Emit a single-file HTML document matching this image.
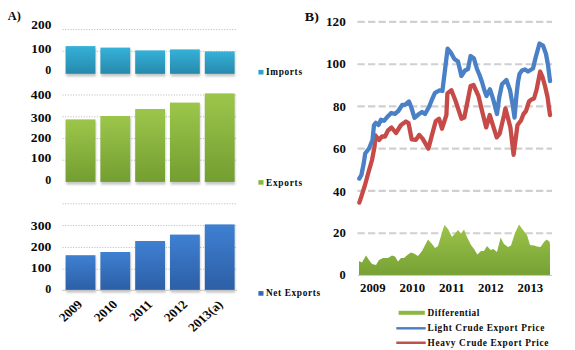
<!DOCTYPE html>
<html><head><meta charset="utf-8"><style>
html,body{margin:0;padding:0;background:#fff;width:575px;height:350px;overflow:hidden}
svg{display:block}
text{font-family:"Liberation Serif", serif;font-weight:bold;fill:#0a0a0a}
</style></head><body>
<svg width="575" height="350" viewBox="0 0 575 350">
<defs>
<linearGradient id="gImp" x1="0" y1="0" x2="0" y2="1"><stop offset="0" stop-color="#35b1d8"/><stop offset="1" stop-color="#2789ad"/></linearGradient>
<linearGradient id="gExp" x1="0" y1="0" x2="0" y2="1"><stop offset="0" stop-color="#9cc64a"/><stop offset="1" stop-color="#739e31"/></linearGradient>
<linearGradient id="gNet" x1="0" y1="0" x2="0" y2="1"><stop offset="0" stop-color="#3f80d2"/><stop offset="1" stop-color="#2c5fa6"/></linearGradient>
<linearGradient id="gArea" gradientUnits="userSpaceOnUse" x1="0" y1="222" x2="0" y2="275"><stop offset="0" stop-color="#9cc64a"/><stop offset="1" stop-color="#77a134"/></linearGradient>
<filter id="blur" x="-20%" y="-20%" width="140%" height="140%"><feGaussianBlur stdDeviation="1"/></filter>
</defs>
<text x="7.8" y="19.9" font-size="13.0" text-anchor="start" textLength="13.0" lengthAdjust="spacingAndGlyphs">A)</text>
<line x1="62.5" y1="29.6" x2="237" y2="29.6" stroke="#bbbbbb" stroke-width="1" stroke-dasharray="1.1 1.55"/>
<line x1="62.5" y1="51.3" x2="237" y2="51.3" stroke="#bbbbbb" stroke-width="1" stroke-dasharray="1.1 1.55"/>
<rect x="66.19999999999999" y="47.6" width="29.8" height="28.899999999999995" fill="#000" opacity="0.22" filter="url(#blur)"/><rect x="65.6" y="46.1" width="29.8" height="27.699999999999996" fill="url(#gImp)"/><rect x="101.0" y="49.1" width="29.8" height="27.399999999999995" fill="#000" opacity="0.22" filter="url(#blur)"/><rect x="100.4" y="47.6" width="29.8" height="26.199999999999996" fill="url(#gImp)"/><rect x="135.79999999999998" y="51.9" width="29.8" height="24.599999999999998" fill="#000" opacity="0.22" filter="url(#blur)"/><rect x="135.2" y="50.4" width="29.8" height="23.4" fill="url(#gImp)"/><rect x="170.6" y="50.9" width="29.8" height="25.599999999999998" fill="#000" opacity="0.22" filter="url(#blur)"/><rect x="170" y="49.4" width="29.8" height="24.4" fill="url(#gImp)"/><rect x="205.4" y="52.9" width="29.8" height="23.599999999999998" fill="#000" opacity="0.22" filter="url(#blur)"/><rect x="204.8" y="51.4" width="29.8" height="22.4" fill="url(#gImp)"/>
<text x="51.3" y="29.4" font-size="12" text-anchor="end" textLength="20" lengthAdjust="spacingAndGlyphs">200</text>
<text x="51.3" y="52.6" font-size="12" text-anchor="end" textLength="20" lengthAdjust="spacingAndGlyphs">100</text>
<text x="51.3" y="74.0" font-size="12" text-anchor="end">0</text>
<line x1="62.5" y1="95.0" x2="237" y2="95.0" stroke="#bbbbbb" stroke-width="1" stroke-dasharray="1.1 1.55"/>
<line x1="62.5" y1="116.8" x2="237" y2="116.8" stroke="#bbbbbb" stroke-width="1" stroke-dasharray="1.1 1.55"/>
<line x1="62.5" y1="138.6" x2="237" y2="138.6" stroke="#bbbbbb" stroke-width="1" stroke-dasharray="1.1 1.55"/>
<line x1="62.5" y1="160.2" x2="237" y2="160.2" stroke="#bbbbbb" stroke-width="1" stroke-dasharray="1.1 1.55"/>
<rect x="66.19999999999999" y="120.9" width="29.8" height="63.7" fill="#000" opacity="0.22" filter="url(#blur)"/><rect x="65.6" y="119.4" width="29.8" height="62.5" fill="url(#gExp)"/><rect x="101.0" y="117.5" width="29.8" height="67.10000000000001" fill="#000" opacity="0.22" filter="url(#blur)"/><rect x="100.4" y="116" width="29.8" height="65.9" fill="url(#gExp)"/><rect x="135.79999999999998" y="110.5" width="29.8" height="74.10000000000001" fill="#000" opacity="0.22" filter="url(#blur)"/><rect x="135.2" y="109" width="29.8" height="72.9" fill="url(#gExp)"/><rect x="170.6" y="104.1" width="29.8" height="80.50000000000001" fill="#000" opacity="0.22" filter="url(#blur)"/><rect x="170" y="102.6" width="29.8" height="79.30000000000001" fill="url(#gExp)"/><rect x="205.4" y="94.9" width="29.8" height="89.7" fill="#000" opacity="0.22" filter="url(#blur)"/><rect x="204.8" y="93.4" width="29.8" height="88.5" fill="url(#gExp)"/>
<text x="51.3" y="98.7" font-size="12" text-anchor="end" textLength="20.5" lengthAdjust="spacingAndGlyphs">400</text>
<text x="51.3" y="121.7" font-size="12" text-anchor="end" textLength="20.5" lengthAdjust="spacingAndGlyphs">300</text>
<text x="51.3" y="141.5" font-size="12" text-anchor="end" textLength="20.5" lengthAdjust="spacingAndGlyphs">200</text>
<text x="51.3" y="162.0" font-size="12" text-anchor="end" textLength="20.5" lengthAdjust="spacingAndGlyphs">100</text>
<text x="51.3" y="184.0" font-size="12" text-anchor="end">0</text>
<line x1="62.5" y1="203.8" x2="237" y2="203.8" stroke="#bbbbbb" stroke-width="1" stroke-dasharray="1.1 1.55"/>
<line x1="62.5" y1="225.6" x2="237" y2="225.6" stroke="#bbbbbb" stroke-width="1" stroke-dasharray="1.1 1.55"/>
<line x1="62.5" y1="247.4" x2="237" y2="247.4" stroke="#bbbbbb" stroke-width="1" stroke-dasharray="1.1 1.55"/>
<line x1="62.5" y1="269.2" x2="237" y2="269.2" stroke="#bbbbbb" stroke-width="1" stroke-dasharray="1.1 1.55"/>
<rect x="66.19999999999999" y="256.7" width="29.8" height="36.000000000000014" fill="#000" opacity="0.22" filter="url(#blur)"/><rect x="65.6" y="255.2" width="29.8" height="34.80000000000001" fill="url(#gNet)"/><rect x="101.0" y="253.5" width="29.8" height="39.2" fill="#000" opacity="0.22" filter="url(#blur)"/><rect x="100.4" y="252" width="29.8" height="38" fill="url(#gNet)"/><rect x="135.79999999999998" y="242.5" width="29.8" height="50.2" fill="#000" opacity="0.22" filter="url(#blur)"/><rect x="135.2" y="241" width="29.8" height="49" fill="url(#gNet)"/><rect x="170.6" y="236.1" width="29.8" height="56.60000000000001" fill="#000" opacity="0.22" filter="url(#blur)"/><rect x="170" y="234.6" width="29.8" height="55.400000000000006" fill="url(#gNet)"/><rect x="205.4" y="225.9" width="29.8" height="66.8" fill="#000" opacity="0.22" filter="url(#blur)"/><rect x="204.8" y="224.4" width="29.8" height="65.6" fill="url(#gNet)"/>
<line x1="62" y1="290.3" x2="237" y2="290.3" stroke="#bfbfbf" stroke-width="0.9"/>
<text x="51.3" y="229.8" font-size="12" text-anchor="end" textLength="20.5" lengthAdjust="spacingAndGlyphs">300</text>
<text x="51.3" y="250.6" font-size="12" text-anchor="end" textLength="20.5" lengthAdjust="spacingAndGlyphs">200</text>
<text x="51.3" y="271.8" font-size="12" text-anchor="end" textLength="20.5" lengthAdjust="spacingAndGlyphs">100</text>
<text x="51.3" y="292.6" font-size="12" text-anchor="end">0</text>
<text x="0" y="0" font-size="12" text-anchor="end" transform="translate(83.19999999999999,305.3) scale(1.12,1) rotate(-45)">2009</text>
<text x="0" y="0" font-size="12" text-anchor="end" transform="translate(118.19999999999999,305.3) scale(1.12,1) rotate(-45)">2010</text>
<text x="0" y="0" font-size="12" text-anchor="end" transform="translate(153.2,305.3) scale(1.12,1) rotate(-45)">2011</text>
<text x="0" y="0" font-size="12" text-anchor="end" transform="translate(188.2,305.3) scale(1.12,1) rotate(-45)">2012</text>
<text x="0" y="0" font-size="12" text-anchor="end" transform="translate(223.6,305.3) scale(1.12,1) rotate(-45)">2013(a)</text>
<rect x="258.4" y="69.9" width="5.1" height="4.6" fill="#2ea2cb"/>
<text x="266" y="74.9" font-size="9.3" text-anchor="start" textLength="36" lengthAdjust="spacing">Imports</text>
<rect x="258.4" y="180.1" width="5.1" height="4.6" fill="#8ab83c"/>
<text x="266" y="185.8" font-size="9.3" text-anchor="start" textLength="36" lengthAdjust="spacing">Exports</text>
<rect x="258.4" y="291.1" width="5.1" height="4.6" fill="#3068bd"/>
<text x="266" y="296.0" font-size="9.3" text-anchor="start" textLength="54" lengthAdjust="spacing">Net Exports</text>
<text x="304.8" y="20.8" font-size="13.2" text-anchor="start" textLength="14" lengthAdjust="spacingAndGlyphs">B)</text>
<line x1="357.5" y1="21.9" x2="552" y2="21.9" stroke="#d0d0d0" stroke-width="2.1" stroke-dasharray="7.3 3.2"/>
<line x1="357.5" y1="64.2" x2="552" y2="64.2" stroke="#d0d0d0" stroke-width="2.1" stroke-dasharray="7.3 3.2"/>
<line x1="357.5" y1="106.4" x2="552" y2="106.4" stroke="#d0d0d0" stroke-width="2.1" stroke-dasharray="7.3 3.2"/>
<line x1="357.5" y1="148.6" x2="552" y2="148.6" stroke="#d0d0d0" stroke-width="2.1" stroke-dasharray="7.3 3.2"/>
<line x1="357.5" y1="190.9" x2="552" y2="190.9" stroke="#d0d0d0" stroke-width="2.1" stroke-dasharray="7.3 3.2"/>
<line x1="357.5" y1="233.3" x2="552" y2="233.3" stroke="#d0d0d0" stroke-width="2.1" stroke-dasharray="7.3 3.2"/>
<text x="345.8" y="26.3" font-size="12.4" text-anchor="end" textLength="19.8" lengthAdjust="spacingAndGlyphs">120</text>
<text x="345.8" y="68.4" font-size="12.4" text-anchor="end" textLength="19.8" lengthAdjust="spacingAndGlyphs">100</text>
<text x="345.8" y="110.7" font-size="12.4" text-anchor="end" textLength="12.8" lengthAdjust="spacingAndGlyphs">80</text>
<text x="345.8" y="153.2" font-size="12.4" text-anchor="end" textLength="12.8" lengthAdjust="spacingAndGlyphs">60</text>
<text x="345.8" y="195.5" font-size="12.4" text-anchor="end" textLength="12.8" lengthAdjust="spacingAndGlyphs">40</text>
<text x="345.8" y="237.2" font-size="12.4" text-anchor="end" textLength="12.8" lengthAdjust="spacingAndGlyphs">20</text>
<text x="345.8" y="279.4" font-size="12.4" text-anchor="end">0</text>
<polygon points="359,275 359.0,261.0 362.0,262.4 366.0,255.6 369.0,260.0 372.0,264.0 376.0,265.0 379.0,260.0 383.0,258.0 388.0,258.0 392.0,255.6 395.0,256.4 398.0,261.6 401.0,258.0 404.0,258.0 408.0,254.4 411.0,252.4 414.0,253.6 418.0,256.0 422.0,251.0 428.0,239.6 432.0,244.0 435.0,248.0 438.0,246.0 441.6,234.0 444.4,225.0 448.0,229.0 452.0,237.0 458.0,230.0 461.0,233.6 464.0,229.6 467.0,237.0 471.0,245.0 474.0,249.0 477.4,254.4 481.0,251.0 484.0,251.0 487.0,246.0 490.6,250.0 493.4,249.0 497.0,252.0 500.6,237.6 504.0,244.0 508.0,247.0 511.0,245.6 515.0,233.0 519.0,224.4 523.0,230.0 527.0,235.0 530.0,245.0 534.0,245.6 537.0,246.4 540.6,247.0 544.0,242.0 546.6,239.6 549.4,241.6 550.0,244.0 550,275" fill="url(#gArea)"/>
<line x1="358" y1="275.4" x2="552" y2="275.4" stroke="#b9c2a5" stroke-width="0.9"/>
<polyline points="359.3,202.6 361.4,196.4 365.0,185.0 368.0,174.0 372.0,160.0 374.5,147.0 375.5,135.5 379.0,140.0 382.0,136.5 385.0,136.5 388.0,130.5 391.5,127.5 396.0,133.0 401.0,125.0 406.0,121.5 408.5,123.0 411.7,139.4 415.9,139.9 419.2,134.9 422.6,138.6 428.4,148.6 432.0,134.9 435.7,121.2 439.0,118.7 442.0,128.7 446.4,115.0 447.4,93.4 451.4,90.2 455.6,101.0 461.4,118.7 464.3,117.5 470.6,86.0 473.5,85.0 478.5,96.0 481.8,110.0 486.2,127.4 489.7,115.0 496.7,137.4 499.7,133.6 504.1,115.0 505.4,108.4 510.4,127.4 513.6,154.8 517.5,125.0 521.0,120.5 523.5,114.0 526.0,111.0 529.0,101.5 531.5,99.5 534.0,98.5 536.5,90.0 538.5,80.0 540.2,71.5 542.5,77.0 545.0,86.0 547.5,97.0 550.0,115.0" fill="none" stroke="#c64b48" stroke-width="4.3" stroke-linejoin="round" stroke-linecap="round"/>
<polyline points="359.3,178.6 361.4,175.0 363.8,163.0 365.2,153.5 369.0,148.5 372.5,140.0 374.0,125.0 375.8,122.8 378.5,125.0 381.0,119.8 384.0,120.8 388.0,116.2 391.2,113.0 395.0,113.8 398.3,111.0 402.2,105.0 405.2,104.6 409.0,101.5 411.5,108.0 414.5,117.8 419.0,114.0 422.0,112.0 425.0,114.0 429.0,107.0 432.0,99.5 435.0,92.8 439.5,90.4 442.4,91.0 444.4,74.8 447.6,48.7 450.7,52.4 454.4,59.0 458.0,61.5 461.4,76.0 465.0,70.5 468.0,69.0 470.6,56.0 473.8,58.2 477.0,69.0 479.5,75.0 482.0,82.0 484.3,90.0 486.5,96.0 490.0,89.3 493.0,98.6 497.0,114.0 499.3,97.0 502.0,84.3 506.4,80.0 510.0,90.0 513.0,107.0 514.5,117.5 516.5,95.0 518.0,82.0 519.5,74.0 522.0,70.5 525.0,69.5 528.0,71.5 533.0,68.5 535.5,58.0 539.5,43.5 543.0,45.5 546.0,54.0 548.0,65.0 550.0,81.0" fill="none" stroke="#4a80c6" stroke-width="4.3" stroke-linejoin="round" stroke-linecap="round"/>
<text x="360" y="292.0" font-size="12" text-anchor="start" textLength="25.6" lengthAdjust="spacingAndGlyphs">2009</text>
<text x="399.6" y="292.0" font-size="12" text-anchor="start" textLength="25.6" lengthAdjust="spacingAndGlyphs">2010</text>
<text x="439" y="292.0" font-size="12" text-anchor="start" textLength="25.6" lengthAdjust="spacingAndGlyphs">2011</text>
<text x="478" y="292.0" font-size="12" text-anchor="start" textLength="25.6" lengthAdjust="spacingAndGlyphs">2012</text>
<text x="517.6" y="292.0" font-size="12" text-anchor="start" textLength="25.6" lengthAdjust="spacingAndGlyphs">2013</text>
<rect x="398.6" y="310.8" width="26.2" height="4" fill="#8db744"/>
<text x="427.6" y="316.0" font-size="9.3" text-anchor="start" textLength="51.8" lengthAdjust="spacing">Differential</text>
<rect x="396.3" y="327.1" width="29.4" height="2.4" fill="#4a7ebf"/>
<text x="427.6" y="331.4" font-size="9.3" text-anchor="start" textLength="116.8" lengthAdjust="spacing">Light Crude Export Price</text>
<rect x="396.3" y="341.5" width="29.4" height="2.5" fill="#c0504d"/>
<text x="427.6" y="345.6" font-size="9.3" text-anchor="start" textLength="120.8" lengthAdjust="spacing">Heavy Crude Export Price</text>
</svg>
</body></html>
